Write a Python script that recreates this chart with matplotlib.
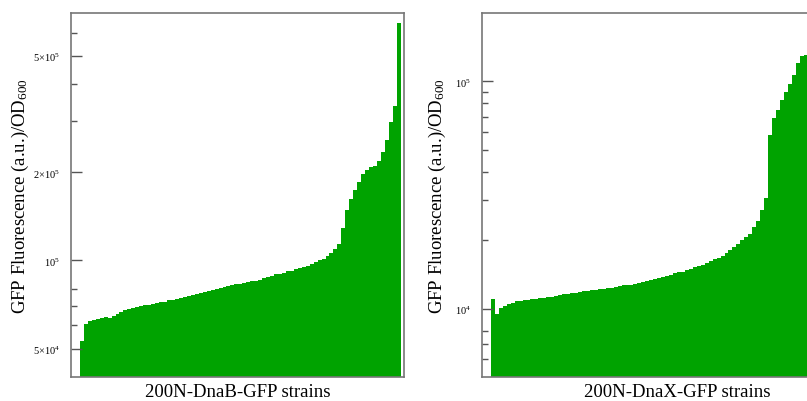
import matplotlib
matplotlib.use('Agg')
import matplotlib.pyplot as plt
import numpy as np

plt.rcParams['font.family'] = ['Liberation Serif', 'DejaVu Serif']
plt.rcParams['mathtext.fontset'] = 'custom'
plt.rcParams['mathtext.rm'] = 'Liberation Serif'
plt.rcParams['mathtext.it'] = 'Liberation Serif:italic'

# sorted strain fluorescence values
dnab_vals = [52000, 59900, 61300, 61800, 62300, 62800, 63000, 62800, 63800, 64700,
             65700, 66500, 67300, 67800, 68400, 68700, 69200, 69500, 70000, 70300,
             70900, 71400, 72000, 72500, 73100, 73700, 74300, 74600, 75100, 75700,
             76300, 77000, 77600, 78200, 78800, 79400, 80000, 80600, 81200, 81900,
             82200, 82900, 83200, 83800, 84200, 84800, 85800, 86800, 87500, 88600,
             89200, 89900, 90700, 91400, 92500, 93500, 94300, 95000, 96400, 98000,
             99100, 100300, 102200, 105200, 108600, 113000, 128000, 148000, 161000, 173000,
             185000, 196000, 202000, 207000, 210000, 218000, 234000, 257000, 295000, 335000,
             648000]

dnax_vals = [10000, 8500, 9040, 9310, 9510, 9600, 9750, 9850, 9900, 9950,
             10000, 10050, 10100, 10150, 10200, 10300, 10410, 10520, 10570, 10630,
             10680, 10730, 10840, 10900, 10950, 11070, 11120, 11180, 11240, 11290,
             11350, 11410, 11530, 11640, 11700, 11760, 11880, 12000, 12120, 12250,
             12370, 12500, 12630, 12750, 12890, 13080, 13280, 13420, 13560, 13770,
             13970, 14190, 14410, 14630, 14850, 15150, 15460, 15780, 16100, 16600,
             17100, 17670, 18200, 18950, 19750, 20300, 21800, 23200, 26200, 29600,
             57300, 68000, 73800, 81700, 88500, 96000, 106000, 120000, 128000, 130000]

dnab_major = [5e4, 1e5, 2e5, 5e5]
dnab_major_lbl = [r'$5{\times}10^{4}$', r'$10^{5}$', r'$2{\times}10^{5}$', r'$5{\times}10^{5}$']
dnab_minor = [6e4, 7e4, 8e4, 3e5, 4e5, 6e5]

dnax_major = [1e4, 1e5]
dnax_major_lbl = [r'$10^{4}$', r'$10^{5}$']
dnax_minor = [6e3, 7e3, 8e3, 2e4, 3e4, 4e4, 5e4, 6e4, 7e4, 8e4, 9e4]

green = '#00a300'
ylab = r'GFP Fluorescence (a.u.)/OD$_{600}$'

fig = plt.figure(figsize=(8.07, 4.02), dpi=100)
ax1 = fig.add_axes([71/807, 24/402, 333/807, 364/402])
ax2 = fig.add_axes([482/807, 24/402, 390/807, 364/402])

panels = [
    (ax1, dnab_vals, (4e4, 7e5), dnab_major, dnab_major_lbl, dnab_minor,
     '200N-DnaB-GFP strains', (-2.77, 81.26), -0.12),
    (ax2, dnax_vals, (5e3, 2e5), dnax_major, dnax_major_lbl, dnax_minor,
     '200N-DnaX-GFP strains', (-2.77, 95.7), -0.086),
]

for ax, vals, ylim, major, major_lbl, minor, xlab, xlim, lab_x in panels:
    x = np.arange(len(vals))
    ax.bar(x, vals, width=1.08, bottom=1e3, color=green, linewidth=0)
    ax.set_yscale('log')
    ax.set_ylim(*ylim)
    ax.set_xlim(*xlim)
    ax.set_yticks(major)
    ax.set_yticklabels(major_lbl)
    ax.set_yticks(minor, minor=True)
    ax.set_yticklabels([], minor=True)
    ax.set_xticks([])
    ax.tick_params(axis='y', which='major', direction='in', length=8, width=1,
                   color='#555555', labelsize=7.5, pad=8)
    ax.tick_params(axis='y', which='minor', direction='in', length=4, width=1,
                   color='#555555')
    for s in ax.spines.values():
        s.set_color('#777777')
        s.set_linewidth(1.2)
    ax.set_xlabel(xlab, fontsize=13.5, labelpad=4)
    ax.set_ylabel(ylab, fontsize=13.5)
    ax.yaxis.set_label_coords(lab_x, 0.5)

fig.savefig('out.png', dpi=100)
